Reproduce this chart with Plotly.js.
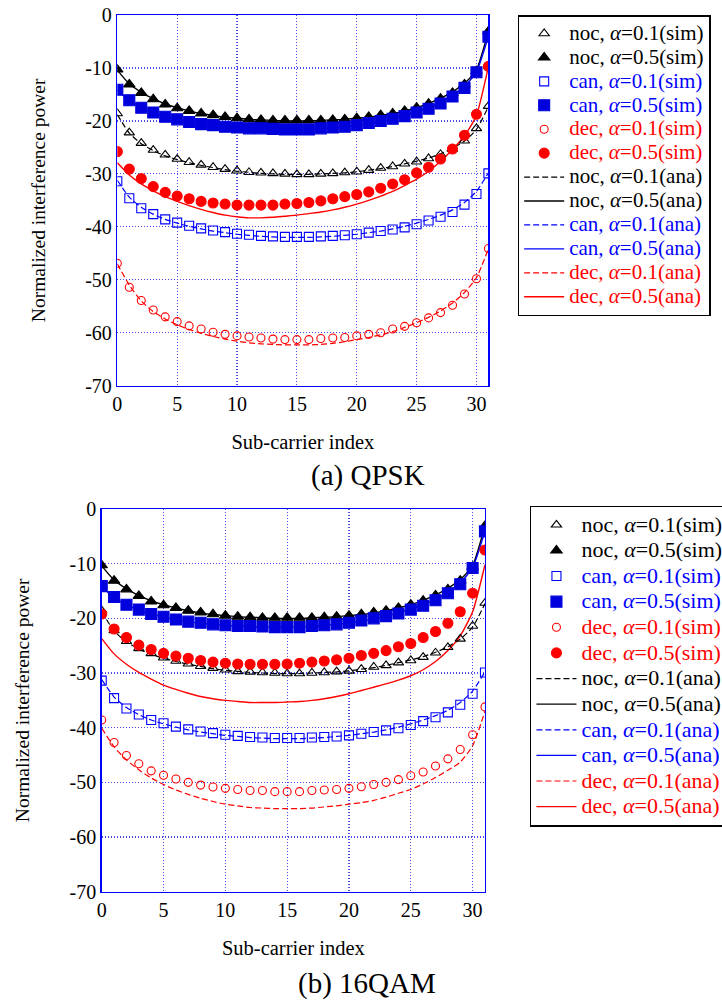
<!DOCTYPE html>
<html>
<head>
<meta charset="utf-8">
<script src="https://cdn.plot.ly/plotly-3.0.1.min.js"></script>
<style>
html,body{margin:0;padding:0;background:#fff;}
#chart{width:722px;height:1001px;}
</style>
</head>
<body>
<div id="chart"></div>
<script>
// ---------- data ----------
const subcarrier = [0,1,2,3,4,5,6,7,8,9,10,11,12,13,14,15,16,17,18,19,20,21,22,23,24,25,26,27,28,29,30,31];

const xTickVals = [0,5,10,15,20,25,30];
const xTickText = ['0','5','10','15','20','25','30'];
const yTickVals = [0,-10,-20,-30,-40,-50,-60,-70];
const yTickText = ['0','-10','-20','-30','-40','-50','-60','-70'];

// No cancellation (same for both modulations)
const noc01Sim = [-18.6,-22.2,-24.2,-25.5,-26.4,-27.2,-27.8,-28.3,-28.75,-29.1,-29.4,-29.7,-29.8,-29.9,-30.0,-30.1,-30.1,-30.0,-29.9,-29.75,-29.6,-29.3,-28.9,-28.6,-28.1,-27.7,-27.1,-26.3,-25.3,-23.75,-21.4,-17.2];
const noc01Ana = [-18.8,-22.3,-24.3,-25.6,-26.6,-27.3,-27.9,-28.4,-28.8,-29.2,-29.5,-29.7,-29.9,-30.0,-30.1,-30.1,-30.1,-30.0,-29.9,-29.8,-29.6,-29.3,-29.0,-28.6,-28.1,-27.6,-27.0,-26.2,-25.2,-23.8,-21.6,-17.3];
const noc05Sim = [-10.3,-13.1,-14.7,-15.9,-16.9,-17.6,-18.1,-18.6,-18.9,-19.25,-19.5,-19.7,-19.8,-19.9,-19.9,-19.9,-19.9,-19.9,-19.8,-19.7,-19.5,-19.25,-18.9,-18.6,-18.1,-17.5,-16.75,-15.8,-14.7,-13.1,-10.6,-3.1];
const noc05Ana = [-10.4,-13.0,-14.6,-15.8,-16.8,-17.5,-18.1,-18.6,-19.0,-19.3,-19.5,-19.7,-19.8,-19.9,-20.0,-20.0,-20.0,-19.9,-19.8,-19.7,-19.5,-19.3,-19.0,-18.6,-18.1,-17.5,-16.7,-15.7,-14.5,-12.9,-10.3,-3.0];
// Cancellation (same for both modulations)
const can01Sim = [-31.4,-34.6,-36.5,-37.6,-38.6,-39.2,-39.8,-40.3,-40.7,-41.0,-41.3,-41.5,-41.7,-41.8,-41.9,-41.9,-41.9,-41.8,-41.7,-41.6,-41.4,-41.1,-40.8,-40.5,-40.1,-39.5,-38.8,-38.1,-37.2,-35.8,-33.8,-29.9];
const can01Ana = [-31.2,-34.4,-36.3,-37.6,-38.6,-39.3,-39.9,-40.4,-40.8,-41.1,-41.4,-41.6,-41.8,-41.9,-42.0,-42.0,-42.0,-41.9,-41.8,-41.6,-41.4,-41.1,-40.8,-40.4,-39.9,-39.3,-38.6,-37.8,-36.8,-35.4,-33.3,-29.8];
const can05Sim = [-14.1,-16.1,-17.5,-18.4,-19.2,-19.7,-20.2,-20.6,-20.8,-21.1,-21.25,-21.4,-21.4,-21.5,-21.6,-21.6,-21.6,-21.4,-21.25,-21.1,-20.8,-20.4,-20.0,-19.6,-19.1,-18.4,-17.7,-16.7,-15.4,-13.75,-10.8,-4.1];
const can05Ana = [-14.2,-16.2,-17.5,-18.5,-19.2,-19.8,-20.2,-20.6,-20.9,-21.1,-21.3,-21.4,-21.5,-21.6,-21.6,-21.6,-21.6,-21.5,-21.3,-21.1,-20.9,-20.5,-20.1,-19.6,-19.0,-18.3,-17.5,-16.5,-15.2,-13.5,-10.7,-4.0];
// Decision-based, QPSK
const dec01SimQpsk = [-46.9,-51.4,-53.9,-55.7,-57.0,-57.9,-58.7,-59.3,-59.9,-60.3,-60.6,-60.8,-61.0,-61.2,-61.3,-61.3,-61.3,-61.1,-61.0,-60.9,-60.6,-60.3,-60.0,-59.3,-58.8,-58.1,-57.2,-56.2,-54.8,-52.7,-49.8,-44.1];
const dec01AnaQpsk = [-47.0,-51.0,-54.0,-56.0,-57.4,-58.5,-59.4,-60.1,-60.7,-61.2,-61.6,-61.9,-62.1,-62.2,-62.3,-62.3,-62.3,-62.2,-62.0,-61.7,-61.3,-60.9,-60.4,-59.8,-59.0,-58.1,-57.1,-55.9,-54.4,-52.4,-49.6,-44.1];
const dec05SimQpsk = [-25.8,-29.1,-30.9,-32.4,-33.5,-34.2,-34.7,-35.2,-35.5,-35.7,-35.9,-35.9,-35.9,-35.9,-35.7,-35.6,-35.4,-35.1,-34.7,-34.3,-33.9,-33.4,-32.7,-31.9,-31.1,-29.8,-28.75,-27.2,-25.3,-22.7,-18.75,-9.7];
const dec05AnaQpsk = [-27.9,-30.2,-31.9,-33.2,-34.3,-35.2,-36.0,-36.7,-37.3,-37.8,-38.1,-38.3,-38.3,-38.2,-38.0,-37.8,-37.5,-37.2,-36.8,-36.3,-35.7,-35.0,-34.2,-33.3,-32.2,-31.0,-29.5,-27.6,-25.4,-22.8,-18.9,-9.7];
// Decision-based, 16QAM
const dec01Sim16 = [-38.6,-42.7,-45.1,-46.6,-47.9,-48.7,-49.4,-50.0,-50.5,-50.85,-51.1,-51.3,-51.5,-51.5,-51.7,-51.7,-51.7,-51.5,-51.4,-51.3,-51.1,-50.8,-50.4,-50.0,-49.5,-48.8,-48.1,-47.0,-45.7,-44.0,-41.3,-36.2];
const dec01Ana16 = [-40.1,-43.5,-45.9,-47.7,-49.2,-50.4,-51.4,-52.2,-52.9,-53.5,-54.0,-54.3,-54.6,-54.7,-54.8,-54.8,-54.8,-54.7,-54.5,-54.3,-54.0,-53.7,-53.3,-52.7,-52.0,-51.3,-50.3,-49.1,-47.8,-46.3,-43.3,-37.0];
const dec05Sim16 = [-19.2,-21.95,-23.5,-24.9,-25.7,-26.4,-26.9,-27.3,-27.7,-28.0,-28.2,-28.35,-28.4,-28.4,-28.4,-28.35,-28.2,-28.0,-27.8,-27.6,-27.3,-26.8,-26.4,-25.9,-25.2,-24.6,-23.5,-22.4,-20.9,-18.8,-15.4,-7.5];
const dec05Ana16 = [-23.7,-26.5,-28.4,-29.9,-31.1,-32.2,-33.0,-33.7,-34.3,-34.7,-35.0,-35.2,-35.4,-35.4,-35.4,-35.3,-35.2,-35.0,-34.7,-34.3,-33.8,-33.2,-32.6,-32.0,-31.3,-30.5,-29.4,-27.9,-25.9,-23.2,-18.8,-10.2];

// ---------- style ----------
const FONT = 'Liberation Serif';
const BLACK = '#000000', BLUE = '#0000ff', RED = '#ff0000';

function nm(kind, a, tag, color, px){
  return '<span style="color:' + color + ';font-size:' + px + 'px">' + kind + ', <i>α</i>=' + a + '(' + tag + ')</span>';
}

function panelTraces(xa, ya, leg, px, dec01Sim, dec01Ana, dec05Sim, dec05Ana){
  const sims = [
    {y: noc01Sim, name: nm('noc','0.1','sim',BLACK,px), sym:'triangle-up-open', c:BLACK, s:9},
    {y: noc05Sim, name: nm('noc','0.5','sim',BLACK,px), sym:'triangle-up', c:BLACK, s:10},
    {y: can01Sim, name: nm('can','0.1','sim',BLUE,px), sym:'square-open', c:BLUE, s:9},
    {y: can05Sim, name: nm('can','0.5','sim',BLUE,px), sym:'square', c:'#0000dd', s:11},
    {y: dec01Sim, name: nm('dec','0.1','sim',RED,px), sym:'circle-open', c:RED, s:8},
    {y: dec05Sim, name: nm('dec','0.5','sim',RED,px), sym:'circle', c:RED, s:10}
  ];
  const anas = [
    {y: noc01Ana, name: nm('noc','0.1','ana',BLACK,px), c:BLACK, d:'6px,3px', w:1.2},
    {y: noc05Ana, name: nm('noc','0.5','ana',BLACK,px), c:BLACK, d:'solid', w:1.4},
    {y: can01Ana, name: nm('can','0.1','ana',BLUE,px), c:BLUE, d:'6px,3px', w:1.2},
    {y: can05Ana, name: nm('can','0.5','ana',BLUE,px), c:BLUE, d:'solid', w:1.4},
    {y: dec01Ana, name: nm('dec','0.1','ana',RED,px), c:RED, d:'6px,3px', w:1.2},
    {y: dec05Ana, name: nm('dec','0.5','ana',RED,px), c:RED, d:'solid', w:1.4}
  ];
  const out = [];
  anas.forEach((t,i)=>{
    out.push({x: subcarrier, y: t.y, name: t.name, type:'scatter', mode:'lines',
      xaxis: xa, yaxis: ya, legend: leg, legendrank: 200 + i,
      line:{color:t.c, width:t.w, dash:t.d, shape:'spline', smoothing:0.6}});
  });
  sims.forEach((t,i)=>{
    out.push({x: subcarrier, y: t.y, name: t.name, type:'scatter', mode:'markers',
      xaxis: xa, yaxis: ya, legend: leg, legendrank: 100 + i,
      marker:{symbol:t.sym, color:t.c, size:t.s, line:{color:t.c, width:1.1}}});
  });
  return out;
}

const traces = [].concat(
  panelTraces('x','y','legend', 21, dec01SimQpsk, dec01AnaQpsk, dec05SimQpsk, dec05AnaQpsk),
  panelTraces('x2','y2','legend2', 22, dec01Sim16, dec01Ana16, dec05Sim16, dec05Ana16)
);

function xAxis(domain, anchor){
  return {domain: domain, anchor: anchor, range:[0,31], tickvals:xTickVals, ticktext:xTickText,
    showline:true, mirror:true, linecolor:BLUE, linewidth:1.5,
    showgrid:true, gridcolor:'#4a4af0', griddash:'1px,2px', gridwidth:1.2,
    zeroline:false, ticks:'', tickfont:{family:FONT, size:20, color:BLACK},
    title:{text:'Sub-carrier index', font:{family:FONT, size:20.5, color:BLACK}, standoff:20}};
}
function yAxis(domain, anchor){
  return {domain: domain, anchor: anchor, range:[-70,0], tickvals:yTickVals, ticktext:yTickText,
    showline:true, mirror:true, linecolor:BLUE, linewidth:1.5,
    showgrid:true, gridcolor:'#4a4af0', griddash:'1px,2px', gridwidth:1.2,
    zeroline:false, ticks:'', tickfont:{family:FONT, size:20, color:BLACK},
    title:{text:'Normalized interference power', font:{family:FONT, size:19.5, color:BLACK}, standoff:34}};
}

const legendBase = {
  xanchor:'left', yanchor:'top', bgcolor:'#ffffff', bordercolor:BLACK, borderwidth:1.5,
  tracegroupgap:0, itemwidth:40, traceorder:'normal'
};

const layout = {
  width:722, height:1001,
  margin:{l:0, r:0, t:0, b:0, autoexpand:false},
  paper_bgcolor:'#ffffff', plot_bgcolor:'#ffffff',
  font:{family:FONT, color:BLACK},
  showlegend:true,
  xaxis: xAxis([0.1625, 0.6765], 'y'),
  yaxis: yAxis([0.6147, 0.985], 'x'),
  xaxis2: xAxis([0.1409, 0.6717], 'y2'),
  yaxis2: yAxis([0.1092, 0.4915], 'x2'),
  legend: Object.assign({}, legendBase, {x:0.717, y:0.985, font:{family:FONT, size:16.1, color:BLACK}}),
  legend2: Object.assign({}, legendBase, {x:0.734, y:0.495, font:{family:FONT, size:17.4, color:BLACK}}),
  annotations:[
    {text:'(a) QPSK', xref:'paper', yref:'paper', x:368/722, y:1-475/1001, xanchor:'center', yanchor:'middle',
     showarrow:false, font:{family:FONT, size:29, color:BLACK}},
    {text:'(b) 16QAM', xref:'paper', yref:'paper', x:367/722, y:1-983/1001, xanchor:'center', yanchor:'middle',
     showarrow:false, font:{family:FONT, size:29, color:BLACK}}
  ]
};

Plotly.newPlot('chart', traces, layout, {staticPlot:true, displayModeBar:false});
</script>
</body>
</html>
